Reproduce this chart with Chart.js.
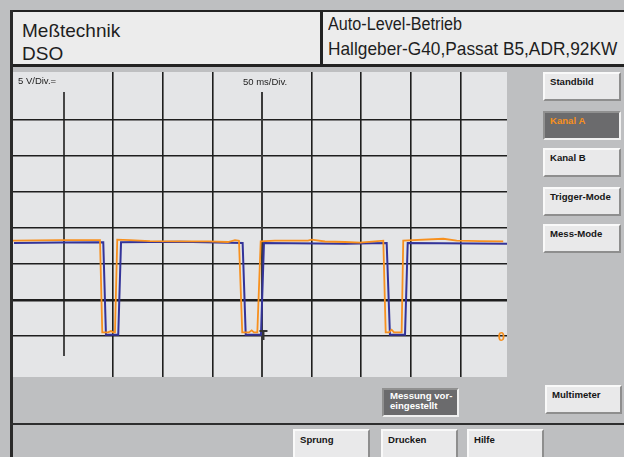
<!DOCTYPE html>
<html lang="de">
<head>
<meta charset="utf-8">
<title>Meßtechnik DSO</title>
<script src="https://cdn.jsdelivr.net/npm/chart.js@4.4.1/dist/chart.umd.min.js"></script>
<style>
*{box-sizing:border-box;}
html,body{margin:0;padding:0;}
body{width:624px;height:457px;overflow:hidden;position:relative;background:#bebfc1;font-family:"Liberation Sans",Arial,Helvetica,sans-serif;color:#1e1e1e;}
.abs{position:absolute;}
#hdr{left:10px;top:10px;width:614px;height:57px;background:#ececec;border-top:2.5px solid #222;border-left:3px solid #222;border-bottom:3px solid #222;}
#hdrDiv{left:320px;top:10px;width:3px;height:57px;background:#222;}
#leftBorder{left:10px;top:10px;width:3px;height:447px;background:#2a2a2a;}
#plot{left:13px;top:72px;width:494px;height:305px;background:#e4e5e7;}
#plot canvas{display:block;}
#botLine{left:10px;top:423px;width:614px;height:2px;background:#2e2e2e;}
.t{position:absolute;white-space:nowrap;line-height:1;color:#1e1e1e;}
.btn{position:absolute;background:#e9e9ea;border-style:solid;border-width:2px;border-color:#f9f9f9 #8e8e8e #8e8e8e #f9f9f9;font-weight:bold;font-size:9.6px;line-height:10px;padding:3px 0 0 5px;white-space:nowrap;color:#161616;}
.btn.dark{background:#6b6b6d;border-color:#909090 #f0f0f0 #f0f0f0 #909090;color:#ffffff;}
.btn.active{color:#f7901e;}
</style>
</head>
<body>
<div id="hdr" class="abs"></div>
<div id="hdrDiv" class="abs"></div>
<div id="leftBorder" class="abs"></div>
<div class="t" style="left:22px;top:21px;font-size:19px;">Meßtechnik</div>
<div class="t" style="left:22px;top:44px;font-size:19px;">DSO</div>
<div class="t" style="left:328px;top:16px;font-size:17.5px;transform:scaleX(0.925);transform-origin:0 0;">Auto-Level-Betrieb</div>
<div class="t" style="left:328px;top:39px;font-size:19px;transform:scaleX(0.91);transform-origin:0 0;">Hallgeber-G40,Passat B5,ADR,92KW</div>

<div id="plot" class="abs"><canvas id="scope" width="494" height="305"></canvas></div>

<div class="btn" style="left:543px;top:72px;width:78px;height:29px;">Standbild</div>
<div class="btn dark active" style="left:543px;top:111px;width:78px;height:29px;">Kanal A</div>
<div class="btn" style="left:543px;top:148px;width:78px;height:29px;">Kanal B</div>
<div class="btn" style="left:543px;top:187px;width:78px;height:29px;">Trigger-Mode</div>
<div class="btn" style="left:543px;top:224px;width:78px;height:29px;">Mess-Mode</div>

<div class="btn dark" style="left:382px;top:388px;width:77px;height:29px;padding-top:1px;padding-left:6px;">Messung vor-<br>eingestellt</div>
<div class="btn" style="left:545px;top:385px;width:77px;height:29px;padding-top:2.5px;">Multimeter</div>

<div id="botLine" class="abs"></div>
<div class="btn" style="left:293px;top:429px;width:77px;height:32px;padding-top:4px;">Sprung</div>
<div class="btn" style="left:381px;top:429px;width:77px;height:32px;padding-top:4px;">Drucken</div>
<div class="btn" style="left:467px;top:429px;width:77px;height:32px;padding-top:4px;">Hilfe</div>

<script>
// Kanal A (orange), time in ms, voltage in V
const CH_A_TIME_MS = [-1, 46.4, 86.7, 89.0, 94.8, 97.8, 99.8, 101.8, 104.1, 116.9, 137.1, 167.3, 195.6, 215.7, 222.8, 226.8, 230.1, 236.9, 239.6, 241.9, 245.3, 248.7, 263.1, 288.3, 296.4, 300.1, 313.5, 333.7, 348.8, 372.3, 374.7, 378.0, 380.7, 383.1, 390.8, 392.4, 432.8, 446.3, 469.8, 493.2];
const CH_A_VOLT    = [13.24, 13.33, 13.33, 0.51, 0.51, 0.69, 0.51, 0.51, 13.38, 13.33, 13.19, 13.15, 13.15, 13.06, 13.33, 13.24, 0.51, 0.51, 0.79, 0.51, 0.51, 13.15, 13.24, 13.26, 13.24, 13.38, 13.13, 13.06, 12.96, 13.24, 0.51, 0.51, 0.88, 0.51, 0.51, 13.24, 13.51, 13.24, 13.19, 13.15];
// Kanal B (blue)
const CH_B_TIME_MS = [0, 46.4, 90.0, 92.7, 105.1, 107.9, 167.3, 230.5, 233.6, 249.0, 252.0, 333.7, 375.7, 379.0, 394.2, 396.9, 497];
const CH_B_VOLT    = [12.92, 12.99, 13.01, 0.18, 0.18, 13.01, 13.10, 12.92, 0.18, 0.18, 12.92, 12.82, 12.92, 0.18, 0.18, 12.92, 12.82];
// grid divisions and labels
const TIME_GRID_MS = [50, 100, 150, 200, 250, 300, 350, 400, 450];
const VOLT_GRID = [0, 5, 10, 15, 20, 25, 30];
const TIME_RANGE_MS = [-1, 497];
const VOLT_RANGE = [-5.69, 36.67];
const VOLT_DIV_LABEL = '5 V/Div.=';
const TIME_DIV_LABEL = '50 ms/Div.';
const ZERO_MARK_LABEL = '0';
const TRIGGER_MARK = [251, 0.7];   // [ms, V]
const SHORT_TIME_LINES = [50, 250]; // divisions drawn shorter under the labels

const FONT = '"Liberation Sans", Arial, Helvetica, sans-serif';

const scopePlugin = {
  id: 'scopeDecor',
  beforeDatasetsDraw(chart) {
    const {ctx, chartArea: a, scales: {x}} = chart;
    ctx.save();
    SHORT_TIME_LINES.forEach((t, i) => {
      const px = Math.round(x.getPixelForValue(t)) ;
      ctx.strokeStyle = i === 0 ? '#1e1e1e' : '#3a3a3a';
      ctx.lineWidth = i === 0 ? 1.6 : 2;
      ctx.beginPath();
      ctx.moveTo(px, a.top + 20);
      ctx.lineTo(px, i === 0 ? a.bottom - 21 : a.bottom);
      ctx.stroke();
    });
    ctx.fillStyle = '#222';
    ctx.font = '9.5px ' + FONT;
    ctx.textBaseline = 'alphabetic';
    ctx.textAlign = 'left';
    ctx.fillText(VOLT_DIV_LABEL, a.left + 5, a.top + 12);
    ctx.fillText(TIME_DIV_LABEL, x.getPixelForValue(250) - 19, a.top + 13);
    ctx.restore();
  },
  afterDatasetsDraw(chart) {
    const {ctx, chartArea: a, scales: {x, y}} = chart;
    ctx.save();
    // zero marker of channel A
    ctx.fillStyle = '#f7901e';
    ctx.font = 'bold 13px ' + FONT;
    ctx.textAlign = 'right';
    ctx.textBaseline = 'middle';
    ctx.fillText(ZERO_MARK_LABEL, a.right - 2, y.getPixelForValue(0) + 1.5);
    // trigger marker
    const tx = x.getPixelForValue(TRIGGER_MARK[0]);
    const ty = y.getPixelForValue(TRIGGER_MARK[1]);
    ctx.strokeStyle = '#333';
    ctx.lineWidth = 2;
    ctx.beginPath();
    ctx.moveTo(tx - 3.5, ty); ctx.lineTo(tx + 4.5, ty);
    ctx.moveTo(tx + 0.5, ty); ctx.lineTo(tx + 0.5, ty + 9);
    ctx.stroke();
    ctx.restore();
  }
};

const toPts = (ts, vs) => ts.map((t, i) => ({x: t, y: vs[i]}));

new Chart(document.getElementById('scope'), {
  type: 'line',
  data: {
    datasets: [
      {label: 'Kanal A', data: toPts(CH_A_TIME_MS, CH_A_VOLT), borderColor: '#f7901e', borderWidth: 1.8, pointRadius: 0, tension: 0, fill: false},
      {label: 'Kanal B', data: toPts(CH_B_TIME_MS, CH_B_VOLT), borderColor: '#333399', borderWidth: 2, pointRadius: 0, tension: 0, fill: false}
    ]
  },
  options: {
    responsive: false,
    animation: false,
    devicePixelRatio: 1,
    parsing: true,
    layout: {padding: 0},
    plugins: {legend: {display: false}, tooltip: {enabled: false}},
    scales: {
      x: {
        type: 'linear', min: TIME_RANGE_MS[0], max: TIME_RANGE_MS[1],
        ticks: {display: false},
        border: {display: false},
        grid: {color: '#1e1e1e', lineWidth: 1.6, drawTicks: false},
        afterBuildTicks: s => { s.ticks = TIME_GRID_MS.filter(t => !SHORT_TIME_LINES.includes(t)).map(v => ({value: v})); }
      },
      y: {
        type: 'linear', min: VOLT_RANGE[0], max: VOLT_RANGE[1],
        ticks: {display: false},
        border: {display: false},
        grid: {color: '#1e1e1e', lineWidth: c => (c.tick && c.tick.value === 5 ? 2.4 : 1.6), drawTicks: false},
        afterBuildTicks: s => { s.ticks = VOLT_GRID.map(v => ({value: v})); }
      }
    }
  },
  plugins: [scopePlugin]
});
</script>
</body>
</html>
